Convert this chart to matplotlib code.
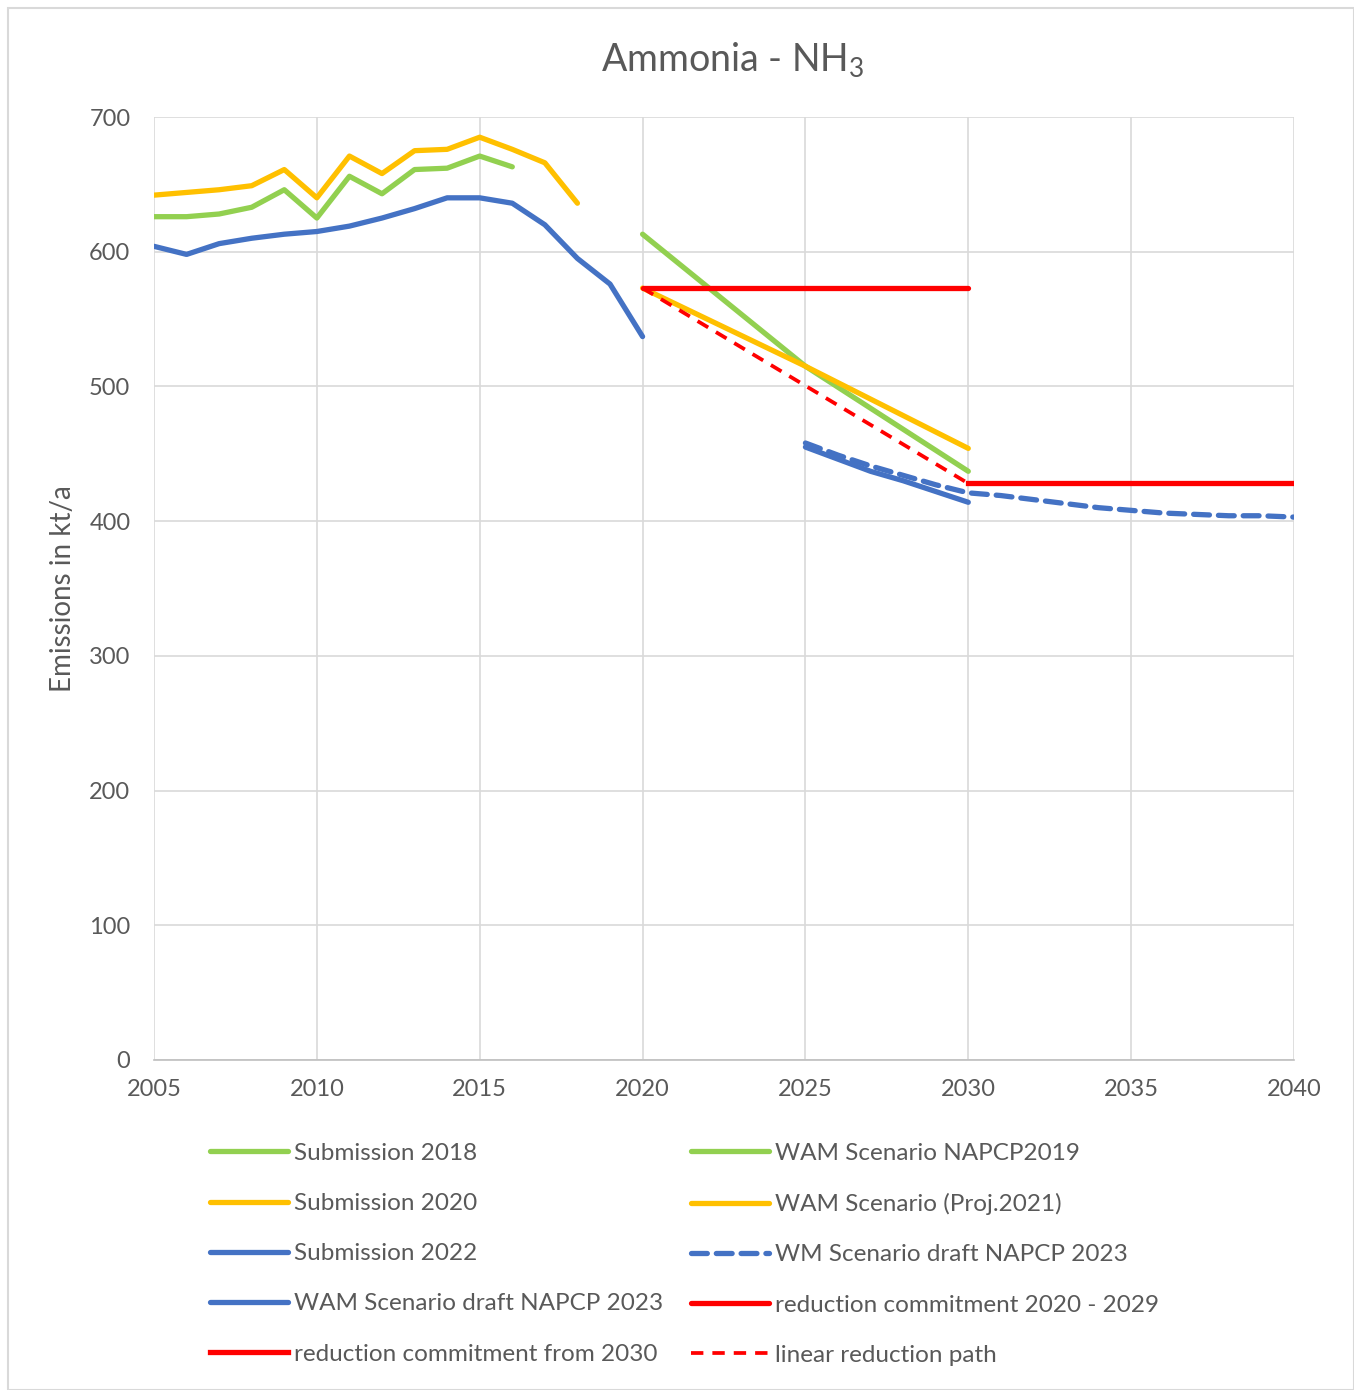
import matplotlib
matplotlib.use("Agg")
import matplotlib.pyplot as plt
from matplotlib.patches import Rectangle

plt.rcParams['font.family'] = ['Lato', 'DejaVu Sans']

# historical submissions
years_sub2018 = list(range(2005, 2017))
sub2018 = [626, 626, 628, 633, 646, 625, 656, 643, 661, 662, 671, 663]

years_sub2020 = list(range(2005, 2019))
sub2020 = [642, 644, 646, 649, 661, 640, 671, 658, 675, 676, 685, 676, 666, 636]

years_sub2022 = list(range(2005, 2021))
sub2022 = [604, 598, 606, 610, 613, 615, 619, 625, 632, 640, 640, 636, 620, 595, 576, 537]

# projections
years_wam2019 = [2020, 2025, 2030]
wam2019 = [613, 515, 437]

years_wam2021 = [2020, 2025, 2030]
wam2021 = [573, 515, 454]

years_wam2023 = list(range(2025, 2031))
wam2023 = [455, 446, 437, 430, 422, 414]

years_wm2023 = list(range(2025, 2041))
wm2023 = [458, 449, 441, 434, 427, 421, 419, 416, 413, 410, 408, 406, 405, 404, 404, 403]

# commitments
years_rc2020 = [2020, 2030]
rc2020 = [573, 573]
years_rc2030 = [2030, 2040]
rc2030 = [428, 428]
years_linear = [2020, 2030]
linear_path = [573, 428]

GREEN = '#92D050'
YELLOW = '#FFC000'
BLUE = '#4472C4'
RED = '#FF0000'
TXT = '#595959'

fig = plt.figure(figsize=(13.54, 13.9), dpi=100)
fig.patches.append(Rectangle((8 / 1354, 0), 1 - 8 / 1354, 1 - 8 / 1390, transform=fig.transFigure,
                             fill=False, edgecolor='#D9D9D9', linewidth=1.5))
ax = fig.add_axes([154 / 1354, 1 - 1060 / 1390, (1294 - 154) / 1354, (1060 - 117) / 1390])

lw = 3.8
h_s18, = ax.plot(years_sub2018, sub2018, color=GREEN, lw=lw, solid_capstyle='round', label='Submission 2018')
h_s20, = ax.plot(years_sub2020, sub2020, color=YELLOW, lw=lw, solid_capstyle='round', label='Submission 2020')
h_s22, = ax.plot(years_sub2022, sub2022, color=BLUE, lw=lw, solid_capstyle='round', label='Submission 2022')
h_w19, = ax.plot(years_wam2019, wam2019, color=GREEN, lw=lw, solid_capstyle='round', label='WAM Scenario NAPCP2019')
h_w21, = ax.plot(years_wam2021, wam2021, color=YELLOW, lw=lw, solid_capstyle='round', label='WAM Scenario (Proj.2021)')
h_rc20, = ax.plot(years_rc2020, rc2020, color=RED, lw=lw, solid_capstyle='round', label='reduction commitment 2020 - 2029')
h_lin, = ax.plot(years_linear, linear_path, color=RED, lw=2.7, dashes=(3.3, 2.4), label='linear reduction path')
h_wm23, = ax.plot(years_wm2023, wm2023, color=BLUE, lw=lw, dashes=(3.0, 1.7), dash_capstyle='round',
                  label='WM Scenario draft NAPCP 2023')
h_w23, = ax.plot(years_wam2023, wam2023, color=BLUE, lw=lw, solid_capstyle='round', label='WAM Scenario draft NAPCP 2023')
h_rc30, = ax.plot(years_rc2030, rc2030, color=RED, lw=lw, label='reduction commitment from 2030')

ax.set_xlim(2005, 2040)
ax.set_ylim(0, 700)
ax.set_xticks(range(2005, 2041, 5))
ax.set_yticks(range(0, 701, 100))
ax.grid(True, color='#D9D9D9', lw=1.2)
ax.set_axisbelow(True)
for s in ['top', 'right', 'left']:
    ax.spines[s].set_visible(False)
ax.spines['bottom'].set_color('#BFBFBF')
ax.spines['bottom'].set_linewidth(1.2)
ax.tick_params(length=0, labelsize=17, labelcolor=TXT)
ax.tick_params(axis='x', pad=14)
ax.tick_params(axis='y', pad=17)

fig.text(63 / 1354, 1 - 589 / 1390, 'Emissions in kt/a', fontsize=20, color=TXT,
         rotation=90, ha='center', va='center')
fig.text(733 / 1354, 1 - 60 / 1390, r'Ammonia - NH$_\mathregular{3}$', fontsize=27, color=TXT,
         ha='center', va='center')

handles = [h_s18, h_s20, h_s22, h_w23, h_rc30, h_w19, h_w21, h_wm23, h_rc20, h_lin]
leg = fig.legend(handles=handles, labels=[h.get_label() for h in handles], ncol=2,
                 loc='upper left', bbox_to_anchor=(188 / 1354, 1 - 1121 / 1390),
                 frameon=False, fontsize=17.5, handlelength=3.2, handletextpad=0.25,
                 columnspacing=1.15, labelspacing=1.2, labelcolor=TXT)

fig.savefig('out.png', dpi=100)
